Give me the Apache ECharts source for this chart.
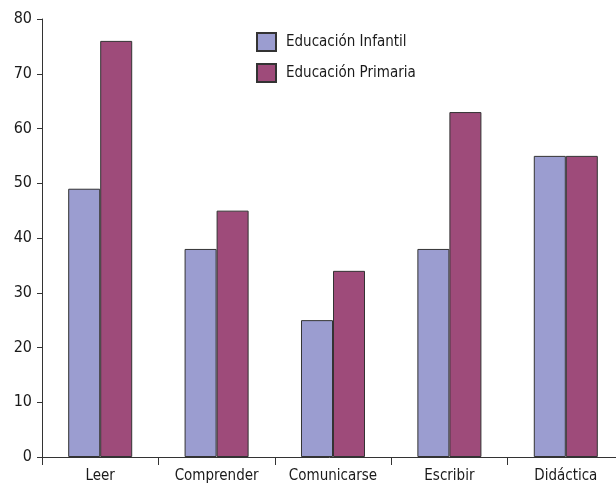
<!DOCTYPE html>
<html>
<head>
<meta charset="utf-8">
<script src="https://cdn.jsdelivr.net/npm/echarts@6/dist/echarts.min.js"></script>
<style>html,body{margin:0;padding:0;background:#fff;}#c{width:616px;height:484px;}</style>
</head>
<body>
<div id="c"></div>
<script>
var categories = ['Leer', 'Comprender', 'Comunicarse', 'Escribir', 'Didáctica'];
var seriesNames = ['Educación Infantil', 'Educación Primaria'];
var infantil = [49, 38, 25, 38, 55];
var primaria = [76, 45, 34, 63, 55];
var yTicks = [0, 10, 20, 30, 40, 50, 60, 70, 80];

var FONT = '"Liberation Sans Narrow", "DejaVu Sans Condensed", "Roboto Condensed", sans-serif';
var chart = echarts.init(document.getElementById('c'), null, {renderer: 'canvas'});
chart.setOption({
  animation: false,
  backgroundColor: '#ffffff',
  textStyle: {fontFamily: FONT},
  grid: {left: 42, top: 19, width: 582, bottom: 27, containLabel: false, outerBoundsMode: 'none'},
  legend: {
    orient: 'vertical',
    left: 256, top: 32,
    padding: 0,
    itemWidth: 19, itemHeight: 18, itemGap: 11,
    icon: 'rect',
    data: seriesNames,
    textStyle: {fontFamily: FONT, fontSize: 15, color: '#1a1a1a', padding: [0, 0, 0, 5]}
  },
  xAxis: {
    type: 'category',
    data: categories,
    axisLine: {show: true, lineStyle: {color: '#333', width: 1}},
    axisTick: {show: true, length: 8, alignWithLabel: false, lineStyle: {color: '#333'}},
    axisLabel: {fontFamily: FONT, fontSize: 15, color: '#1a1a1a', margin: 12, interval: 0}
  },
  yAxis: {
    type: 'value',
    min: yTicks[0], max: yTicks[yTicks.length - 1], interval: 10,
    splitLine: {show: false},
    axisLine: {show: true, lineStyle: {color: '#333', width: 1}},
    axisTick: {show: true, length: 5, lineStyle: {color: '#333'}},
    axisLabel: {fontFamily: FONT, fontSize: 16, color: '#1a1a1a', margin: 10}
  },
  series: [
    {
      name: seriesNames[0], type: 'bar', data: infantil,
      barGap: '0%', barCategoryGap: '45%',
      itemStyle: {color: '#9b9dd0', borderColor: '#333', borderWidth: 1}
    },
    {
      name: seriesNames[1], type: 'bar', data: primaria,
      barGap: '0%', barCategoryGap: '45%',
      itemStyle: {color: '#9e4b7a', borderColor: '#333', borderWidth: 1}
    }
  ]
});
</script>
</body>
</html>
